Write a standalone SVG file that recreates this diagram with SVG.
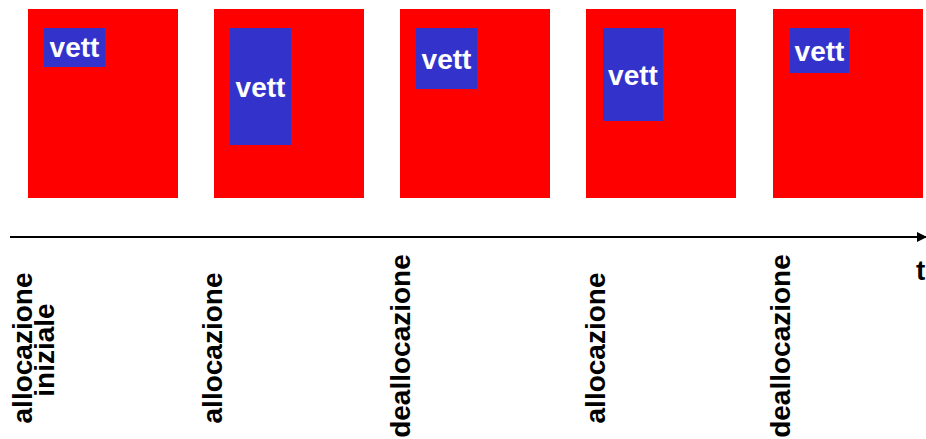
<svg xmlns="http://www.w3.org/2000/svg" width="926" height="439" viewBox="0 0 926 439">
<style>
.mem{fill:#ff0000}
.vec{fill:#3333cc}
.vt{font-family:"Liberation Sans",Arial,sans-serif;font-weight:bold;font-size:28px;fill:#ffffff;text-anchor:middle}
.lb{font-family:"Liberation Sans",Arial,sans-serif;font-weight:bold;font-size:28px;fill:#000000;text-anchor:middle}
</style>
<defs>
<marker id="ah" markerWidth="10" markerHeight="10" refX="9" refY="5" orient="auto" markerUnits="userSpaceOnUse">
<path d="M0,0 L10,5 L0,10 Z" fill="#000"/>
</marker>
</defs>
<g id="state1">
<rect class="mem" x="28" y="9" width="150" height="189"/>
<rect class="vec" x="44" y="28" width="61" height="39"/>
<text class="vt" x="74.5" y="57">vett</text>
</g>
<g id="state2">
<rect class="mem" x="214" y="9" width="150" height="189"/>
<rect class="vec" x="230" y="28" width="61" height="117"/>
<text class="vt" x="260.5" y="97">vett</text>
</g>
<g id="state3">
<rect class="mem" x="400" y="9" width="150" height="189"/>
<rect class="vec" x="416" y="28" width="61" height="61"/>
<text class="vt" x="446.5" y="69">vett</text>
</g>
<g id="state4">
<rect class="mem" x="586" y="9" width="150" height="189"/>
<rect class="vec" x="603" y="28" width="60" height="93"/>
<text class="vt" x="633" y="85">vett</text>
</g>
<g id="state5">
<rect class="mem" x="773" y="9" width="150" height="189"/>
<rect class="vec" x="790" y="28" width="59" height="45"/>
<text class="vt" x="819.5" y="61">vett</text>
</g>
<g id="connectors">
<line x1="10" y1="237" x2="926" y2="237" stroke="#000" stroke-width="2" marker-end="url(#ah)"/>
</g>
<g id="axis-label">
<text class="lb" x="916" y="280" style="text-anchor:start">t</text>
</g>
<g id="event1">
<text class="lb" transform="translate(32,348) rotate(-90)">allocazione</text>
<text class="lb" transform="translate(54,350) rotate(-90)">iniziale</text>
</g>
<g id="event2">
<text class="lb" transform="translate(222,348) rotate(-90)">allocazione</text>
</g>
<g id="event3">
<text class="lb" transform="translate(410,346) rotate(-90)">deallocazione</text>
</g>
<g id="event4">
<text class="lb" transform="translate(605,348) rotate(-90)">allocazione</text>
</g>
<g id="event5">
<text class="lb" transform="translate(790,346) rotate(-90)">deallocazione</text>
</g>
</svg>
